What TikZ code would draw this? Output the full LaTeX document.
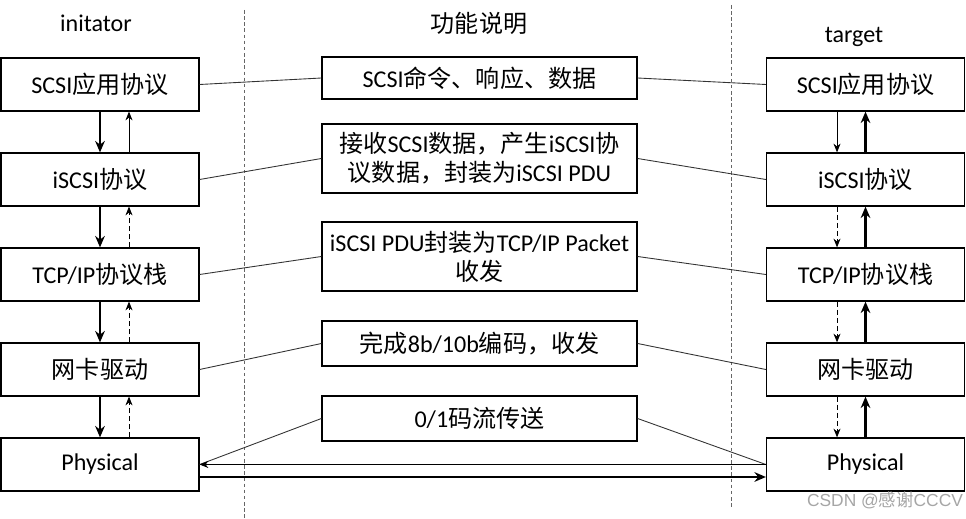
\documentclass[tikz,border=0pt]{standalone}
\usepackage{fontspec}
\setmainfont{Carlito}
\newfontfamily\cjk{Noto Sans CJK SC}
\newfontfamily\wmfont{Liberation Sans}
\newcommand{\zh}[1]{{\cjk #1}}
\usetikzlibrary{arrows.meta,positioning}

\begin{document}
\begin{tikzpicture}[>=Stealth,
  font=\fontsize{13.7}{16.5}\selectfont,
  layer/.style={draw,line width=0.7pt,minimum width=3.96cm,minimum height=1.06cm,inner sep=0pt},
  note/.style={draw,line width=0.7pt,minimum width=6.3cm,align=center,inner sep=0pt},
  link/.style={draw=black!80,line width=0.5pt},
  fat/.style={line width=1.7pt,-{Stealth[length=6.5pt,width=5.5pt]}},
  slim/.style={line width=0.5pt,-{Stealth[length=5pt,width=4pt]}},
  slimdash/.style={slim,dash pattern=on 3pt off 1.6pt},
  divider/.style={draw=black!60,line width=0.4pt,dash pattern=on 2pt off 1.5pt}]
\useasboundingbox (0,0) rectangle (19.32,10.36);

% headers
\node (hini) at (1.92,9.9) {initator};
\node (hfun) at (9.58,9.9) {\zh{功能说明}};
\node (htgt) at (17.08,9.62) {target};

% separators
\draw[divider] (4.88,10.16) -- (4.88,0);
\draw[divider] (14.62,10.26) -- (14.62,0.22);

% initiator stack
\node[layer] (lapp) at (2.0,8.67) {SCSI\zh{应用协议}};
\node[layer] (liscsi) at (2.0,6.77) {iSCSI\zh{协议}};
\node[layer] (ltcp) at (2.0,4.87) {TCP/IP\zh{协议栈}};
\node[layer] (lnic) at (2.0,2.97) {\zh{网卡驱动}};
\node[layer] (lphy) at (2.0,1.07) {Physical};

% target stack
\node[layer] (rapp) at (17.31,8.67) {SCSI\zh{应用协议}};
\node[layer] (riscsi) at (17.31,6.77) {iSCSI\zh{协议}};
\node[layer] (rtcp) at (17.31,4.87) {TCP/IP\zh{协议栈}};
\node[layer] (rnic) at (17.31,2.97) {\zh{网卡驱动}};
\node[layer] (rphy) at (17.31,1.07) {Physical};

% descriptions
\node[note,minimum height=0.84cm] (fapp) at (9.59,8.8) {SCSI\zh{命令、响应、数据}};
\node[note,minimum height=1.38cm] (fiscsi) at (9.59,7.19) {\zh{接收}SCSI\zh{数据，产生}iSCSI\zh{协}\\\zh{议数据，封装为}iSCSI PDU};
\node[note,minimum height=1.38cm] (ftcp) at (9.59,5.23) {iSCSI PDU\zh{封装为}TCP/IP Packet\\\zh{收发}};
\node[note,minimum height=0.9cm] (fnic) at (9.59,3.49) {\zh{完成}8b/10b\zh{编码，收发}};
\node[note,minimum height=0.9cm] (fphy) at (9.59,1.99) {0/1\zh{码流传送}};

% links to both stacks
\draw[link] (lapp.east) -- (fapp.west);
\draw[link] (fapp.east) -- (rapp.west);
\draw[link] (liscsi.east) -- (fiscsi.west);
\draw[link] (fiscsi.east) -- (riscsi.west);
\draw[link] (ltcp.east) -- (ftcp.west);
\draw[link] (ftcp.east) -- (rtcp.west);
\draw[link] (lnic.east) -- (fnic.west);
\draw[link] (fnic.east) -- (rnic.west);
\draw[link] (fphy.west) -- (lphy.east);
\draw[link] (fphy.east) -- (rphy.west);

% initiator: down and up
\draw[fat] (lapp.south) -- (liscsi.north);
\draw[fat] (liscsi.south) -- (ltcp.north);
\draw[fat] (ltcp.south) -- (lnic.north);
\draw[fat] (lnic.south) -- (lphy.north);
\draw[slim] ([xshift=0.58cm]liscsi.north) -- ([xshift=0.58cm]lapp.south);
\draw[slimdash] ([xshift=0.58cm]ltcp.north) -- ([xshift=0.58cm]liscsi.south);
\draw[slimdash] ([xshift=0.58cm]lnic.north) -- ([xshift=0.58cm]ltcp.south);
\draw[slimdash] ([xshift=0.58cm]lphy.north) -- ([xshift=0.58cm]lnic.south);

% target: down and up
\draw[slim] ([xshift=-0.57cm]rapp.south) -- ([xshift=-0.57cm]riscsi.north);
\draw[slimdash] ([xshift=-0.57cm]riscsi.south) -- ([xshift=-0.57cm]rtcp.north);
\draw[slimdash] ([xshift=-0.57cm]rtcp.south) -- ([xshift=-0.57cm]rnic.north);
\draw[slimdash] ([xshift=-0.57cm]rnic.south) -- ([xshift=-0.57cm]rphy.north);
\draw[fat] (riscsi.north) -- (rapp.south);
\draw[fat] (rtcp.north) -- (riscsi.south);
\draw[fat] (rnic.north) -- (rtcp.south);
\draw[fat] (rphy.north) -- (rnic.south);

% wire between the two physical layers
\draw[slim] (rphy.west) -- (lphy.east);
\draw[fat] ([yshift=-0.25cm]lphy.east) -- ([yshift=-0.25cm]rphy.west);

\node[text=black!35,font=\wmfont\fontsize{9.9}{11}\selectfont] (mark) at (17.7,0.35) {CSDN @\zh{感谢}CCCV};
\end{tikzpicture}
\end{document}
